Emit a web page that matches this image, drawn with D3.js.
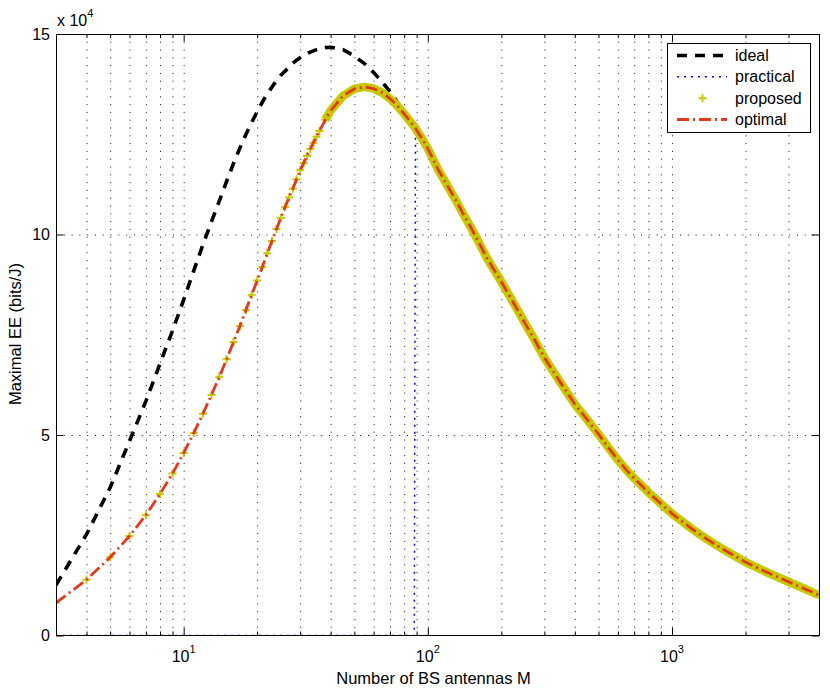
<!DOCTYPE html>
<html lang="en">
<head>
<meta charset="UTF-8">
<title>Maximal EE vs number of BS antennas</title>
<script src="https://d3js.org/d3.v7.min.js"></script>
<style>
  body { margin: 0; background: #fff; }
  svg { font-family: "Liberation Sans", Arial, Helvetica, sans-serif; }
  .grid line { stroke: #111; stroke-width: 1; stroke-dasharray: 1,6.8; }
  .grid path { display: none; }
  .ticks path { display: none; }
  .ticks line { stroke: #000; stroke-width: 1; }
  .frame { fill: none; stroke: #000; stroke-width: 1; }
  .tick-label { font-size: 16px; fill: #000; }
  .axis-title { font-size: 16.5px; fill: #000; }
  .legend text { font-size: 16px; fill: #000; }
</style>
</head>
<body>
<div id="chart"></div>
<script>
// number of BS antennas M (x axis, log scale)
const antennas = [3, 4, 5, 6, 7, 8, 9, 10, 11, 12, 13, 14, 15, 16, 17, 18, 19, 20,
  21, 22, 23, 24, 25, 26, 27, 28, 29, 30, 31, 32, 33, 34, 35, 36,
  38, 40, 45, 50, 55, 60, 65, 70, 75, 80, 85, 88, 89, 90, 95, 100,
  110, 120, 130, 140, 150, 160, 175, 200, 225, 250, 275, 300,
  350, 400, 450, 500, 550, 600, 650, 700, 800, 900, 1000,
  1200, 1400, 1600, 1800, 2000, 2500, 3000, 3500, 4000];

// maximal EE in units of 10^4 bits/J
const idealEE = [1.26, 2.52, 3.69, 4.85, 5.84, 6.78, 7.60, 8.37, 9.10, 9.75, 10.32, 10.84, 11.33, 11.77, 12.16, 12.50, 12.80, 13.06,
  13.30, 13.51, 13.68, 13.84, 13.97, 14.07, 14.17, 14.27, 14.35, 14.41, 14.46, 14.51, 14.55, 14.58, 14.61, 14.63,
  14.66, 14.67, 14.61, 14.45, 14.26, 14.04, 13.80, 13.56, 13.30, 13.01, 12.81, 12.69, 12.65, 12.60, 12.38, 12.14,
  11.63, 11.23, 10.86, 10.50, 10.18, 9.86, 9.40, 8.82, 8.28, 7.79, 7.35, 6.93,
  6.30, 5.77, 5.38, 5.02, 4.68, 4.38, 4.13, 3.92, 3.57, 3.29, 3.04,
  2.67, 2.39, 2.17, 1.99, 1.83, 1.55, 1.34, 1.16, 1.01];

const practicalEE = [0, 0, 0, 0, 0, 0, 0, 0, 0, 0, 0, 0, 0, 0, 0, 0, 0, 0,
  0, 0, 0, 0, 0, 0, 0, 0, 0, 0, 0, 0, 0, 0, 0, 0,
  0, 0, 0, 0, 0, 0, 0, 0, 0, 0, 0, 0, 12.65, 12.60, 12.38, 12.14,
  11.63, 11.23, 10.86, 10.50, 10.18, 9.86, 9.40, 8.82, 8.28, 7.79, 7.35, 6.93,
  6.30, 5.77, 5.38, 5.02, 4.68, 4.38, 4.13, 3.92, 3.57, 3.29, 3.04,
  2.67, 2.39, 2.17, 1.99, 1.83, 1.55, 1.34, 1.16, 1.01];

const proposedEE = [0.815, 1.39, 1.95, 2.48, 3.00, 3.53, 4.04, 4.55, 5.05, 5.53, 6.00, 6.45, 6.89, 7.32, 7.72, 8.12, 8.50, 8.85,
  9.19, 9.53, 9.84, 10.14, 10.41, 10.68, 10.92, 11.14, 11.38, 11.60, 11.78, 11.96, 12.13, 12.29, 12.44, 12.58,
  12.86, 13.09, 13.46, 13.63, 13.68, 13.64, 13.54, 13.39, 13.21, 13.01, 12.81, 12.69, 12.65, 12.60, 12.38, 12.14,
  11.63, 11.23, 10.86, 10.50, 10.18, 9.86, 9.40, 8.82, 8.28, 7.79, 7.35, 6.93,
  6.30, 5.77, 5.38, 5.02, 4.68, 4.38, 4.13, 3.92, 3.57, 3.29, 3.04,
  2.67, 2.39, 2.17, 1.99, 1.83, 1.55, 1.34, 1.16, 1.01];

const optimalEE = [0.815, 1.39, 1.95, 2.48, 3.00, 3.53, 4.04, 4.55, 5.05, 5.53, 6.00, 6.45, 6.89, 7.32, 7.72, 8.12, 8.50, 8.85,
  9.19, 9.53, 9.84, 10.14, 10.41, 10.68, 10.92, 11.14, 11.38, 11.60, 11.78, 11.96, 12.13, 12.29, 12.44, 12.58,
  12.86, 13.09, 13.46, 13.63, 13.68, 13.64, 13.54, 13.39, 13.21, 13.01, 12.81, 12.69, 12.65, 12.60, 12.38, 12.14,
  11.63, 11.23, 10.86, 10.50, 10.18, 9.86, 9.40, 8.82, 8.28, 7.79, 7.35, 6.93,
  6.30, 5.77, 5.38, 5.02, 4.68, 4.38, 4.13, 3.92, 3.57, 3.29, 3.04,
  2.67, 2.39, 2.17, 1.99, 1.83, 1.55, 1.34, 1.16, 1.01];

const xMajor = [10, 100, 1000];
const xMajorExp = ["1", "2", "3"];
const xMinor = [4, 5, 6, 7, 8, 9, 20, 30, 40, 50, 60, 70, 80, 90,
  200, 300, 400, 500, 600, 700, 800, 900, 2000, 3000];
const yTicks = [0, 5, 10, 15];
const legendNames = ["ideal", "practical", "proposed", "optimal"];

// proposed markers are so dense from here on that they merge into a band
const bandFrom = 38;

const width = 830, height = 690;
const plotLeft = 56, plotRight = 819, plotTop = 34, plotBottom = 635.5;

const svg = d3.select("#chart").append("svg")
  .attr("width", width)
  .attr("height", height);

const x = d3.scaleLog().domain([3, 4000]).range([plotLeft, plotRight]);
const y = d3.scaleLinear().domain([0, 15]).range([plotBottom, plotTop]);

svg.append("defs").append("clipPath").attr("id", "plot-clip")
  .append("rect")
  .attr("x", plotLeft).attr("y", plotTop - 6)
  .attr("width", plotRight - plotLeft).attr("height", plotBottom - plotTop + 6);

// grid
svg.append("g").attr("class", "grid")
  .attr("transform", `translate(0,${plotBottom})`)
  .call(d3.axisBottom(x).tickValues(xMinor.concat(xMajor)).tickSize(-(plotBottom - plotTop)).tickFormat(""));
svg.append("g").attr("class", "grid")
  .attr("transform", `translate(${plotLeft},0)`)
  .call(d3.axisLeft(y).tickValues([5, 10]).tickSize(-(plotRight - plotLeft)).tickFormat(""));

// ticks on all four sides, pointing inward
const addTicks = (axis, tx, ty) => svg.append("g").attr("class", "ticks")
  .attr("transform", `translate(${tx},${ty})`).call(axis);
addTicks(d3.axisBottom(x).tickValues(xMajor).tickSize(-7.5).tickFormat(""), 0, plotBottom);
addTicks(d3.axisBottom(x).tickValues(xMinor).tickSize(-4).tickFormat(""), 0, plotBottom);
addTicks(d3.axisTop(x).tickValues(xMajor).tickSize(-7.5).tickFormat(""), 0, plotTop);
addTicks(d3.axisTop(x).tickValues(xMinor).tickSize(-4).tickFormat(""), 0, plotTop);
addTicks(d3.axisLeft(y).tickValues(yTicks).tickSize(-7.5).tickFormat(""), plotLeft, 0);
addTicks(d3.axisRight(y).tickValues(yTicks).tickSize(-7.5).tickFormat(""), plotRight, 0);

// data
const pts = vals => antennas.map((m, i) => [m, vals[i]]);
const line = d3.line().x(d => x(d[0])).y(d => y(d[1]));
const plot = svg.append("g").attr("clip-path", "url(#plot-clip)");

const styles = {
  ideal: { stroke: "#000", width: 3.6, dash: "10,8" },
  practical: { stroke: "#0000ff", width: 1.5, dash: "2,5" },
  optimal: { stroke: "#e2391a", width: 2.8, dash: "12,4,2,4" }
};
const proposedColor = "#c8c800";

plot.append("path").datum(pts(idealEE))
  .attr("fill", "none").attr("stroke", styles.ideal.stroke)
  .attr("stroke-width", styles.ideal.width).attr("stroke-dasharray", styles.ideal.dash)
  .attr("d", line);

plot.append("path").datum(pts(practicalEE))
  .attr("fill", "none").attr("stroke", styles.practical.stroke)
  .attr("stroke-width", styles.practical.width).attr("stroke-dasharray", styles.practical.dash)
  .attr("d", line);

const plusPath = "M-4,0H4M0,-4V4";
plot.append("path").datum(pts(proposedEE).filter(d => d[0] >= bandFrom))
  .attr("fill", "none").attr("stroke", proposedColor)
  .attr("stroke-width", 8.5).attr("stroke-linejoin", "round")
  .attr("d", line);
plot.selectAll(".plus").data(pts(proposedEE)).join("path")
  .attr("class", "plus")
  .attr("transform", d => `translate(${x(d[0])},${y(d[1])})`)
  .attr("d", plusPath)
  .attr("stroke", proposedColor).attr("stroke-width", 2).attr("fill", "none");

plot.append("path").datum(pts(optimalEE))
  .attr("fill", "none").attr("stroke", styles.optimal.stroke)
  .attr("stroke-width", styles.optimal.width).attr("stroke-dasharray", styles.optimal.dash)
  .attr("d", line);

// frame
svg.append("rect").attr("class", "frame")
  .attr("x", plotLeft).attr("y", plotTop)
  .attr("width", plotRight - plotLeft).attr("height", plotBottom - plotTop)
  .attr("shape-rendering", "crispEdges");

// tick labels
const xl = svg.selectAll(".xlab").data(xMajor).join("text")
  .attr("class", "tick-label")
  .attr("x", d => x(d)).attr("y", 662)
  .attr("text-anchor", "middle");
xl.append("tspan").text("10");
xl.append("tspan").attr("dy", -9).attr("font-size", "11px").text((d, i) => xMajorExp[i]);

svg.selectAll(".ylab").data(yTicks).join("text")
  .attr("class", "tick-label")
  .attr("x", 50).attr("y", d => y(d) + 5.5)
  .attr("text-anchor", "end")
  .text(d => d);

const mult = svg.append("text").attr("class", "tick-label")
  .attr("x", 57).attr("y", 26);
mult.append("tspan").text("x 10");
mult.append("tspan").attr("dy", -9).attr("font-size", "11px").text("4");

svg.append("text").attr("class", "axis-title")
  .attr("x", (plotLeft + plotRight) / 2 - 4).attr("y", 683.5)
  .attr("text-anchor", "middle")
  .text("Number of BS antennas M");

svg.append("text").attr("class", "axis-title")
  .attr("transform", "translate(21,334) rotate(-90)")
  .attr("text-anchor", "middle")
  .text("Maximal EE (bits/J)");

// legend
const lg = svg.append("g").attr("class", "legend");
lg.append("rect")
  .attr("x", 667).attr("y", 43).attr("width", 143).attr("height", 89)
  .attr("fill", "#fff").attr("stroke", "#000").attr("stroke-width", 1)
  .attr("shape-rendering", "crispEdges");
const rowY = d3.scalePoint().domain(legendNames).range([55.5, 119.5]);
legendNames.forEach(name => {
  const yy = rowY(name);
  if (name === "proposed") {
    lg.append("path").attr("transform", `translate(702.5,${yy})`).attr("d", plusPath)
      .attr("stroke", proposedColor).attr("stroke-width", 2).attr("fill", "none");
  } else {
    const s = styles[name];
    lg.append("line").attr("x1", 677).attr("x2", 727).attr("y1", yy).attr("y2", yy)
      .attr("stroke", s.stroke).attr("stroke-width", s.width).attr("stroke-dasharray", s.dash);
  }
  lg.append("text").attr("x", 735).attr("y", yy + 5.5).text(name);
});
</script>
</body>
</html>
